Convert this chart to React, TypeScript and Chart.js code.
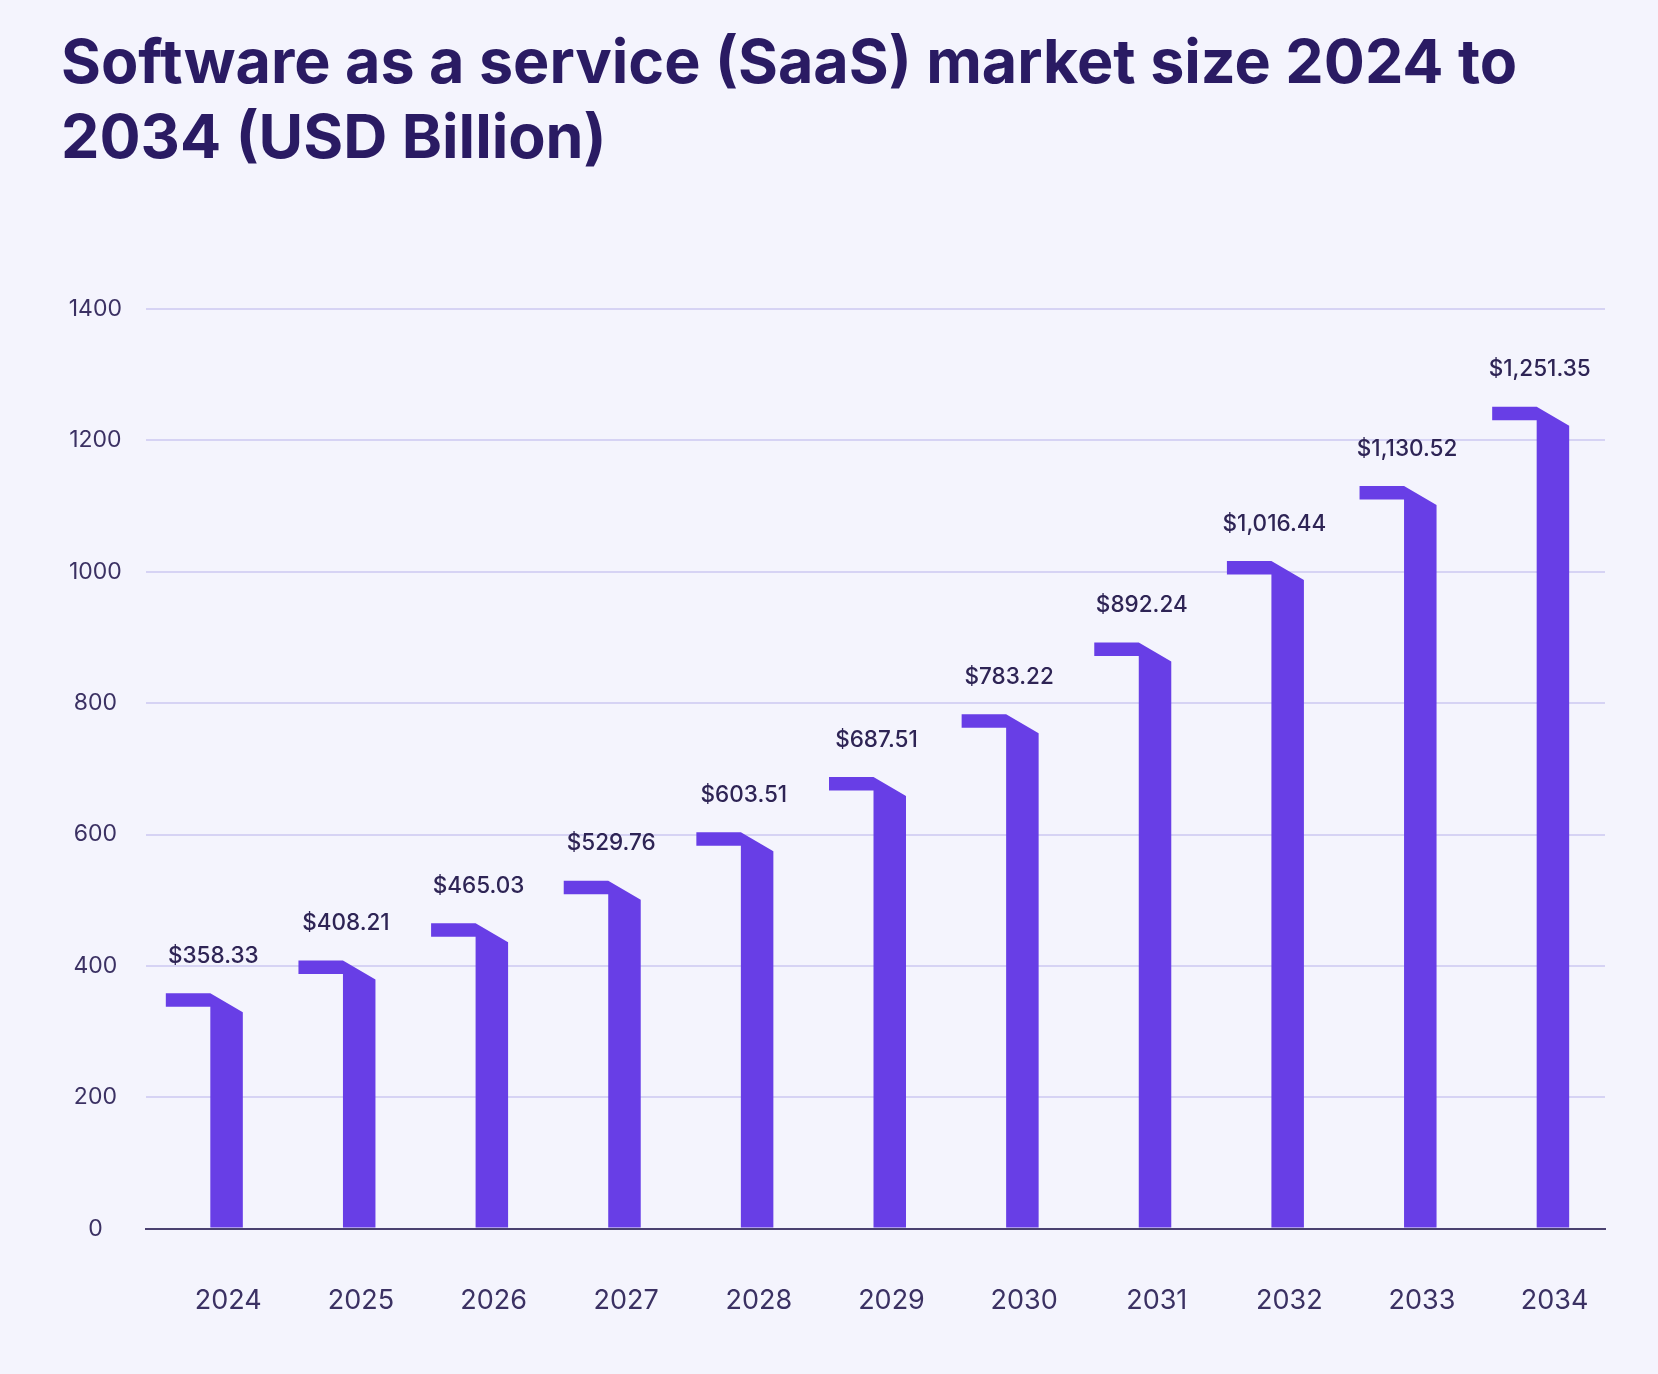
import { useEffect, useRef } from 'react';
import { Chart, registerables } from 'chart.js';

Chart.register(...registerables);

const years = ['2024', '2025', '2026', '2027', '2028', '2029', '2030', '2031', '2032', '2033', '2034'];
const marketSize = [358.33, 408.21, 465.03, 529.76, 603.51, 687.51, 783.22, 892.24, 1016.44, 1130.52, 1251.35];
const yMin = 0;
const yMax = 1400;
const yStep = 200;
const titleLines = ['Software as a service (SaaS) market size 2024 to', '2034 (USD Billion)'];

const BG = '#F4F4FD';
const BAR = '#683EE6';
const TITLE_COLOR = '#2A1B63';
const TICK_COLOR = '#3B3163';
const LABEL_COLOR = '#2E2455';
const GRID = '#D6D3F4';
const AXIS = '#4A4170';
const FONT = 'Inter, "Noto Sans", sans-serif';

const formatValue = (v: number) =>
  '$' + v.toLocaleString('en-US', { minimumFractionDigits: 2, maximumFractionDigits: 2 });

// Draws each bar as a column with a folded cap on its left and writes the value above it.
const foldedBars = {
  id: 'foldedBars',
  afterDatasetsDraw(chart: any) {
    const meta = chart.getDatasetMeta(0);
    const ctx = chart.ctx as CanvasRenderingContext2D;
    ctx.save();
    meta.data.forEach((el: any, i: number) => {
      const { x, y, base } = el.getProps(['x', 'y', 'base'], true);
      const capLeft = x - 46.5;
      const colLeft = x - 2;
      const colRight = x + 30.5;
      const capH = 13.5;
      const slant = 19;
      ctx.fillStyle = BAR;
      ctx.beginPath();
      ctx.moveTo(capLeft, y);
      ctx.lineTo(colLeft, y);
      ctx.lineTo(colRight, y + slant);
      ctx.lineTo(colRight, base);
      ctx.lineTo(colLeft, base);
      ctx.lineTo(colLeft, y + capH);
      ctx.lineTo(capLeft, y + capH);
      ctx.closePath();
      ctx.fill();

      ctx.fillStyle = LABEL_COLOR;
      ctx.font = `500 22.5px ${FONT}`;
      ctx.textAlign = 'center';
      ctx.textBaseline = 'middle';
      ctx.fillText(formatValue(marketSize[i]), x + 1, y - 37);
    });
    ctx.restore();
  },
};

export default function App() {
  const canvasRef = useRef<HTMLCanvasElement | null>(null);

  useEffect(() => {
    if (!canvasRef.current) return;
    const chart = new Chart(canvasRef.current, {
      type: 'bar',
      data: {
        labels: years,
        datasets: [
          {
            data: marketSize,
            backgroundColor: 'rgba(0,0,0,0)',
            borderWidth: 0,
          },
        ],
      },
      plugins: [foldedBars],
      options: {
        responsive: false,
        animation: false,
        devicePixelRatio: 1,
        layout: { padding: { left: 61, right: 53, top: 0, bottom: 9 } },
        plugins: {
          legend: { display: false },
          tooltip: { enabled: false },
          title: {
            display: true,
            text: titleLines,
            align: 'start',
            color: TITLE_COLOR,
            font: { family: FONT, size: 61, weight: 'bold', lineHeight: 1.23 },
            padding: { top: 27, bottom: 132 },
          },
        },
        scales: {
          x: {
            grid: { display: false },
            border: { display: true, color: AXIS, width: 2 },
            ticks: {
              color: TICK_COLOR,
              font: { family: FONT, size: 27 },
              padding: 48,
              labelOffset: 16,
              maxRotation: 0,
            },
          },
          y: {
            min: yMin,
            max: yMax,
            border: { display: false },
            grid: {
              drawTicks: false,
              lineWidth: 2,
              color: (c: any) => (c.tick && c.tick.value === 0 ? AXIS : GRID),
            },
            ticks: {
              stepSize: yStep,
              color: TICK_COLOR,
              font: { family: FONT, size: 23 },
              crossAlign: 'center',
              padding: 24,
              callback: (v: any) => String(v),
            },
            afterFit: (scale: any) => {
              scale.width = 85;
            },
          },
        },
      },
    });
    return () => chart.destroy();
  }, []);

  return (
    <div style={{ position: 'fixed', inset: 0, background: BG }}>
      <canvas ref={canvasRef} width={1658} height={1374} />
    </div>
  );
}
